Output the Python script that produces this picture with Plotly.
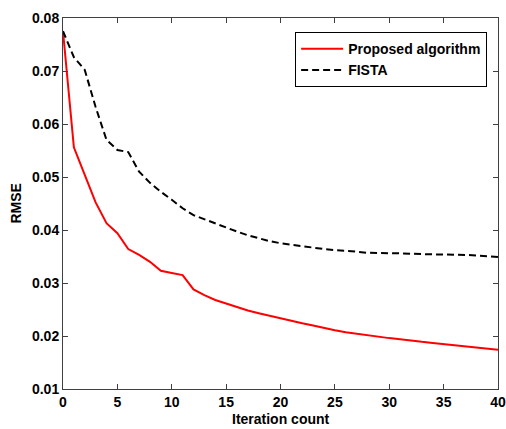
import plotly.graph_objects as go

iterations = list(range(0, 41))
proposed = [0.0775, 0.0556, 0.0504, 0.0452, 0.0413, 0.0394, 0.0364, 0.0353, 0.0340, 0.0323,
            0.0319, 0.0315, 0.0288, 0.0277, 0.0268, 0.0261, 0.0255, 0.0248, 0.0243, 0.0238,
            0.0234, 0.0229, 0.0224, 0.0220, 0.0215, 0.0211, 0.0207, 0.0204, 0.0201, 0.0198,
            0.0196, 0.0194, 0.0191, 0.0189, 0.0187, 0.0185, 0.0183, 0.0181, 0.0179, 0.0176,
            0.0174]
fista = [0.0775, 0.0726, 0.0702, 0.0632, 0.0570, 0.0551, 0.0547, 0.0510, 0.0489, 0.0472,
         0.0457, 0.0441, 0.0428, 0.0420, 0.0412, 0.0404, 0.0397, 0.0390, 0.0384, 0.0379,
         0.0375, 0.0372, 0.0369, 0.0366, 0.0364, 0.0362, 0.0361, 0.0359, 0.0357, 0.0356,
         0.0356, 0.0356, 0.0355, 0.0355, 0.0354, 0.0354, 0.0354, 0.0353, 0.0352, 0.0351,
         0.0349]

x_ticks = [0, 5, 10, 15, 20, 25, 30, 35, 40]
y_ticks = [0.01, 0.02, 0.03, 0.04, 0.05, 0.06, 0.07, 0.08]

font_family = "Liberation Sans, Arial, sans-serif"

fig = go.Figure()
fig.add_trace(go.Scatter(x=iterations, y=proposed, mode="lines", name="Proposed algorithm",
                         line=dict(color="#ff0000", width=2)))
fig.add_trace(go.Scatter(x=iterations, y=fista, mode="lines", name="FISTA",
                         line=dict(color="#000000", width=2, dash="7px,4px")))

axis_common = dict(showgrid=False, zeroline=False, showline=True, linecolor="#404040",
                   linewidth=1, mirror="ticks", ticks="inside", ticklen=5,
                   tickcolor="#404040", automargin=False, ticklabeloverflow="allow",
                   tickfont=dict(family=font_family, size=14, color="#000000"))

fig.update_xaxes(range=[0, 40], tickvals=x_ticks,
                 ticktext=[f"<b>{v}</b>" for v in x_ticks], **axis_common)
fig.update_yaxes(range=[0.01, 0.08], tickvals=y_ticks,
                 ticktext=[f"<b>{v:.2f}</b>" for v in y_ticks], **axis_common)

fig.add_annotation(text="<b>Iteration count</b>", xref="paper", yref="paper",
                   x=0.5, y=0, yshift=-30, xanchor="center", yanchor="middle",
                   showarrow=False, font=dict(family=font_family, size=14, color="#000000"))
fig.add_annotation(text="<b>RMSE</b>", xref="paper", yref="paper",
                   x=0, y=0.5, xshift=-48, xanchor="center", yanchor="middle",
                   textangle=-90, showarrow=False,
                   font=dict(family=font_family, size=14, color="#000000"))

fig.update_layout(
    width=506, height=429,
    margin=dict(l=63, r=8, t=18, b=40),
    paper_bgcolor="white", plot_bgcolor="white",
    showlegend=True,
    legend=dict(x=0.975, y=0.962, xanchor="right", yanchor="top",
                bordercolor="#000000", borderwidth=1, bgcolor="white",
                font=dict(family=font_family, size=14, color="#000000", weight="bold"),
                tracegroupgap=0, itemwidth=42),
)

fig.write_html("out.html",
               config={"displayModeBar": False},
               post_script="document.body.style.margin='0';document.body.style.overflow='hidden';")
